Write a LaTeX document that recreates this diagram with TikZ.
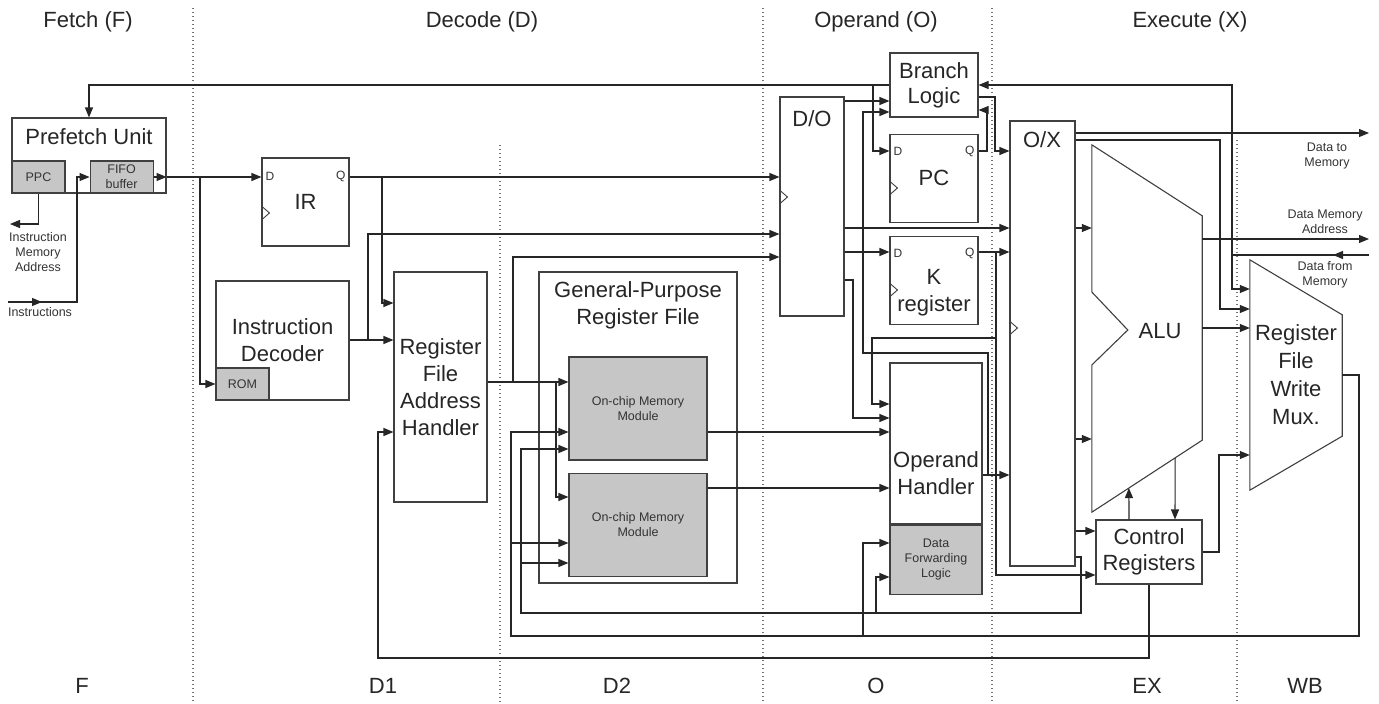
\documentclass[tikz,border=0pt]{standalone}
\usepackage{fontspec}
\setmainfont{Liberation Sans}
\usetikzlibrary{arrows.meta, positioning, calc}

\begin{document}
\begin{tikzpicture}[
    x=1pt, y=-1pt,
    blk/.style={rectangle, draw=black!75, line width=1.1pt, inner sep=0pt, fill=white},
    gblk/.style={blk, fill=gray!45},
    ghost/.style={rectangle, inner sep=0pt},
    big/.style={font=\fontsize{22}{27}\selectfont, text=black!85, align=center, inner sep=0pt},
    small/.style={font=\fontsize{12.5}{15}\selectfont, text=black!80, align=center, inner sep=0pt},
    pin/.style={font=\fontsize{12}{14}\selectfont, text=black!80, inner sep=0pt},
    wire/.style={line width=1.1pt, draw=black!85},
    arr/.style={wire, -{Triangle[length=10pt,width=8pt]}},
    stage/.style={draw=black!55, line width=1.3pt, dash pattern=on 1.3pt off 2.7pt}
]

\useasboundingbox (0,0) rectangle (1379,704);

%% ===== STAGE SEPARATORS + TITLES =====
\foreach \xx/\yy in {193/8, 500/145, 763/8, 992/8, 1237/140}
  \draw[stage] (\xx,\yy) -- (\xx,704);

\node[big] (hF) at (88,22)   {Fetch (F)};
\node[big] (hD) at (482,22)  {Decode (D)};
\node[big] (hO) at (876,22)  {Operand (O)};
\node[big] (hX) at (1190,22) {Execute (X)};

\node[big] (sF)  at (82,686)   {F};
\node[big] (sD1) at (383,686)  {D1};
\node[big] (sD2) at (617,686)  {D2};
\node[big] (sO)  at (876,686)  {O};
\node[big] (sEX) at (1147,686) {EX};
\node[big] (sWB) at (1305,686) {WB};

%% ===== FETCH =====
\node[blk, minimum width=154, minimum height=75] (pfu) at (89,155.5) {};
\node[big] (pfutxt) at (89,137) {Prefetch Unit};
\node[gblk, small, minimum width=53, minimum height=32, above right=0pt and 0pt of pfu.south west] (ppc) {PPC};
\node[gblk, small, minimum width=63, minimum height=32, right=24pt of ppc] (fifo) {FIFO\\buffer};

\node[small] (imtxt)  at (38,252) {Instruction\\Memory\\Address};
\node[small] (instxt) at (40,312) {Instructions};

%% ===== DECODE =====
\node[blk, big, minimum width=87, minimum height=88] (ir) at (305.5,202) {IR};
\node[blk, big, minimum width=133, minimum height=119] (dec) at (282.5,340.5) {Instruction\\Decoder};
\node[gblk, small, minimum width=53, minimum height=32, above right=0pt and 0pt of dec.south west] (rom) {ROM};
\node[blk, big, minimum width=93, minimum height=230] (rfah) at (440.5,387) {Register\\File\\Address\\Handler};

\node[blk, minimum width=198, minimum height=311] (gprf) at (638,427.5) {};
\node[big] (gprftxt) at (638,305) {General-Purpose\\Register File};
\node[gblk, small, minimum width=138, minimum height=103] (mem1) at (638,408.5) {On-chip Memory\\Module};
\node[gblk, small, minimum width=138, minimum height=103, below=12pt of mem1] (mem2) {On-chip Memory\\Module};

%% ===== OPERAND =====
\node[blk, minimum width=64, minimum height=219] (do) at (812,206.5) {};
\node[big] (dotxt) at (812,119) {D/O};
\node[blk, big, minimum width=88, minimum height=64] (bl) at (934,85) {Branch\\[-2pt]Logic};
\node[blk, big, minimum width=88, minimum height=88, below=16pt of bl] (pc) {PC};
\node[blk, minimum width=88, minimum height=88, below=13pt of pc] (kreg) {};
\node[big] (ktxt) at (934,293) {K\\register};
\node[blk, minimum width=92, minimum height=161] (oh) at (936,443.5) {};
\node[big] (ohtxt) at (936,473) {Operand\\Handler};
\node[gblk, small, minimum width=92, minimum height=69, below=0pt of oh] (dfl) {Data\\Forwarding\\Logic};

%% ===== EXECUTE / WRITE BACK =====
\node[blk, minimum width=65, minimum height=445] (ox) at (1042.5,343.5) {};
\node[big] (oxtxt) at (1042,140) {O/X};

\node[ghost, minimum width=110, minimum height=367] (alu) at (1147,328.5) {};
\draw[draw=black!75, line width=1.1pt] (alu.north west) -- ($(alu.north east)+(0,71)$)
  -- ($(alu.south east)+(0,-72)$) -- (alu.south west) -- ($(alu.west)+(0,36.5)$)
  -- ($(alu.west)+(36,1.5)$) -- ($(alu.west)+(0,-36.5)$) -- cycle;
\node[big] (alutxt) at (1160,331) {ALU};
\coordinate (aluBL) at (alu.south west);
\coordinate (aluBR) at ($(alu.south east)+(0,-72)$);

\node[blk, big, minimum width=106, minimum height=64] (ctrl) at (1149,552) {Control\\[-1pt]Registers};

\node[ghost, big, font=\fontsize{22}{28}\selectfont, minimum width=92, minimum height=230] (mux) at (1296,375) {Register\\File\\Write\\Mux.};
\draw[draw=black!75, line width=1.1pt] (mux.north west) -- ($(mux.north east)+(0,55)$)
  -- ($(mux.south east)+(0,-54)$) -- (mux.south west) -- cycle;

\node[small] (dtm) at (1327,156) {Data to\\Memory};
\node[small] (dma) at (1325,222) {Data Memory\\Address};
\node[small] (dfm) at (1325,275) {Data from\\Memory};

%% clock inputs and D/Q pins
\foreach \n/\yy in {ir/213, do/197, pc/188, kreg/290, ox/328}
  \draw[draw=black!75, line width=0.9pt] (\n.west|-0,\yy) ++(0,-7) -- ++(8,7) -- ++(-8,7);

\node[pin, anchor=west] (irD) at ($(ir.north west)+(4,19)$)   {D};
\node[pin, anchor=east] (irQ) at ($(ir.north east)+(-4,19)$)  {Q};
\node[pin, anchor=west] (pcD) at ($(pc.north west)+(4,18)$)   {D};
\node[pin, anchor=east] (pcQ) at ($(pc.north east)+(-4,18)$)  {Q};
\node[pin, anchor=west] (kD)  at ($(kreg.north west)+(4,18)$) {D};
\node[pin, anchor=east] (kQ)  at ($(kreg.north east)+(-4,18)$){Q};

%% ===== WIRES: Fetch =====
\coordinate (jpc)    at (873,85);
\coordinate (jrom)   at (200,177);
\coordinate (insin)  at (8,302);
\coordinate (imaddr) at (10,224);

\draw[arr] (bl.west|-0,85) -| (pfu.north);
\draw[arr] (jpc) |- (pc.west|-0,151);
\draw[arr] (fifo.east) -- (pfu.east|-fifo.east);
\draw[arr] (pfu.east|-fifo.east) -- (ir.west|-fifo.east);
\draw[arr] (jrom) |- (rom.west);
\draw[arr] (insin) -- ++(34,0);
\draw[arr] (insin) -- (77,302) |- (fifo.west);
\draw[arr] (ppc.south) |- (imaddr);

%% ===== WIRES: Decode =====
\coordinate (jq)   at (382,177);
\coordinate (jdec) at (368,340);
\coordinate (jra)  at (513,382);
\coordinate (jrb)  at (556,382);

\draw[arr] (ir.east|-0,177) -- (do.west|-0,177);
\draw[arr] (jq) |- (rfah.west|-0,303);
\draw[arr] (dec.east|-0,340) -- (rfah.west|-0,340);
\draw[arr] (jdec) |- (do.west|-0,234);
\draw[arr] (rfah.east|-0,382) -- (mem1.west|-0,382);
\draw[arr] (jra) |- (do.west|-0,257);
\draw[arr] (jrb) |- (mem2.west|-0,497);
\draw[arr] (mem1.east|-0,432) -- (oh.west|-0,432);
\draw[arr] (mem2.east|-0,488) -- (oh.west|-0,488);

%% ===== WIRES: Operand =====
\coordinate (jk)  at (996,252);
\coordinate (jk2) at (996,338);
\coordinate (joh) at (988,475);

\draw[arr] (do.east|-0,101) -- (bl.west|-0,101);
\draw[arr] (do.east|-0,228) -- (ox.west|-0,228);
\draw[arr] (do.east|-0,252) -- (kreg.west|-0,252);
\draw[arr] (do.east|-0,280) -- (853,280) |- (oh.west|-0,418);
\draw[arr] (pc.east|-0,151) -- (987,151) |- (bl.east|-0,110);
\draw[arr] (bl.east|-0,97) -- (995,97) |- (ox.west|-0,151);
\draw[arr] (kreg.east|-0,252) -- (ox.west|-0,252);
\draw[arr] (jk) |- (ctrl.west|-0,575);
\draw[arr] (jk2) -- (872,338) |- (oh.west|-0,404);
\draw[arr] (oh.east|-0,475) -- (ox.west|-0,475);
\draw[arr] (joh) -- (988,353) -- (863,353) |- (bl.west|-0,112);

%% ===== WIRES: Execute =====
\coordinate (dmem)  at (1369,133);
\coordinate (dadr)  at (1369,239);
\coordinate (dfrom) at (1369,255);
\coordinate (jdm)   at (1232,255);
\coordinate (jfw1)  at (521,563);
\coordinate (jfw2)  at (876,613);
\coordinate (jwb1)  at (511,543);
\coordinate (jwb2)  at (863,636);

\draw[arr] (ox.east|-0,133) -- (dmem);
\draw[arr] (ox.east|-0,140) -- (1220,140) |- (mux.west|-0,309);
\draw[arr] (ox.east|-0,228) -- (alu.west|-0,228);
\draw[arr] (ox.east|-0,439) -- (alu.west|-0,439);
\draw[arr] (ox.east|-0,531) -- (ctrl.west|-0,531);
\draw[arr] (ox.east|-0,557) -| (1081,613) -| (521,449) -- (mem1.west|-0,449);
\draw[arr] (jfw1) -- (mem2.west|-0,563);
\draw[arr] (jfw2) |- (dfl.west|-0,577);

\draw[arr] (alu.east|-0,239) -- (dadr);
\draw[arr] (alu.east|-0,328) -- (mux.west|-0,328);
\draw[arr] ($(aluBL)!0.755!(aluBR)$) -- (ctrl.north -| 1175,0);
\draw[arr] (ctrl.north -| 1129,0) -- ($(aluBL)!0.336!(aluBR)$);

\draw[arr] (ctrl.east) -- (1219,552) |- (mux.west|-0,455);
\draw[arr] (ctrl.south) -- (1149,658) -- (378,658) |- (rfah.west|-0,432);

%% ===== WIRES: Write back / memory =====
\draw[arr] (mux.east) -- (1359,375) -- (1359,636) -- (511,636) |- (mem1.west|-0,432);
\draw[arr] (jwb1) -- (mem2.west|-0,543);
\draw[arr] (jwb2) |- (dfl.west|-0,543);

\draw[arr] (dfrom) -- ++(-36,0);
\draw[wire] (dfrom) -- (jdm);
\draw[arr] (jdm) |- (bl.east|-0,85);
\draw[arr] (jdm) |- (mux.west|-0,289);

\end{tikzpicture}
\end{document}
